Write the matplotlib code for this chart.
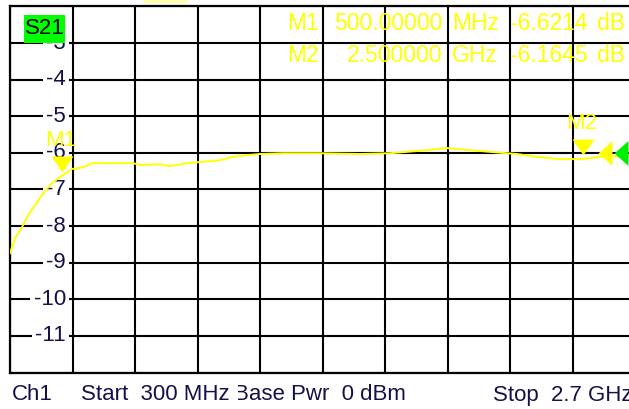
import matplotlib
matplotlib.use("Agg")
import matplotlib.pyplot as plt
import matplotlib.transforms as mtransforms
from matplotlib.patches import Rectangle

# ---------------- data ----------------
freq_mhz = [300, 319, 346, 369, 396, 427, 465, 500, 538, 580, 619, 772, 799,
            876, 914, 980, 1030, 1106, 1156, 1210, 1260, 1348, 1490, 1644,
            1759, 1863, 1978, 2028, 2105, 2208, 2247, 2324, 2412, 2462, 2500,
            2566, 2642, 2700]
s21_db = [-8.74, -8.33, -8.03, -7.70, -7.43, -7.10, -6.80, -6.6214, -6.44,
          -6.39, -6.28, -6.28, -6.33, -6.31, -6.36, -6.28, -6.25, -6.20,
          -6.11, -6.06, -6.03, -6.01, -6.01, -6.03, -6.01, -5.95, -5.87,
          -5.90, -5.95, -6.01, -6.03, -6.11, -6.17, -6.17, -6.1645, -6.11,
          -6.09, -6.09]
marker_names = ["M1", "M2"]
marker_freq = [500, 2500]          # MHz
marker_db = [-6.6214, -6.1645]
marker_freq_text = ["500.00000", "2.500000"]
marker_unit_text = ["MHz", "GHz"]
ytick_values = [-3, -4, -5, -6, -7, -8, -9, -10, -11]
ref_level = -6.0
start_mhz, stop_mhz = 300, 2700
y_min, y_max = -12, -2

# ---------------- figure ----------------
W, H = 629, 409
fig = plt.figure(figsize=(W / 100, H / 100), dpi=100)
fig.patch.set_facecolor("white")

def fx(x):
    return x / W

def fy(y):
    return 1 - y / H

left_px, right_px, top_px, bot_px = 10, 635, 6.4, 372.6
ax = fig.add_axes([fx(left_px), fy(bot_px), (right_px - left_px) / W,
                   (bot_px - top_px) / H])
ax.set_xlim(start_mhz, stop_mhz)
ax.set_ylim(y_min, y_max)
ax.set_facecolor("white")
ax.set_xticks([start_mhz + 240 * i for i in range(11)])
ax.set_yticks(list(range(y_min, y_max + 1)))
ax.grid(True, color="black", linewidth=1.5, zorder=1)
ax.tick_params(length=0, labelleft=False, labelbottom=False)
for s in ax.spines.values():
    s.set_color("black")
    s.set_linewidth(1.6)
ax.set_axisbelow(True)

FONT = "Liberation Sans"
LBL = "#12124a"
YEL = "#ffff00"
FS = 16
FS_RD = 16.5

# trace
ax.plot(freq_mhz, s21_db, color=YEL, linewidth=1.4, zorder=6,
        solid_joinstyle="round")

# y labels inside the grid with white boxes
blend = mtransforms.blended_transform_factory(ax.transAxes, ax.transData)
lab_x = (66 - left_px) / (right_px - left_px)
for v in ytick_values:
    ax.text(lab_x, v, str(v), transform=blend, ha="right", va="center",
            fontsize=FS, family=FONT, color=LBL, zorder=4,
            bbox=dict(boxstyle="square,pad=0.15", fc="white", ec="none"))

# marker triangles (tip slightly above the data point)
tri_down = [(-11, 20), (11, 20), (0, 4), (-11, 20)]
for name, f, d in zip(marker_names, marker_freq, marker_db):
    ax.plot([f], [d], marker=tri_down, markersize=20 * 2 * 0.72,
            color=YEL, markeredgewidth=0, linestyle="none", zorder=7)
    ax.annotate(name, xy=(f, d), xytext=(-1, 35 * 0.72),
                textcoords="offset points", ha="center", va="center",
                fontsize=FS, family=FONT, color=YEL, zorder=5)

# reference level arrows at the right edge
tri_left = [(-7, 0), (7, 12.5), (7, -12.5), (-7, 0)]
ax.plot([(605 - left_px) / (right_px - left_px)], [ref_level],
        transform=blend, marker=tri_left, markersize=12.5 * 2 * 0.72,
        color=YEL, markeredgewidth=0, linestyle="none", zorder=7,
        clip_on=False)
ax.plot([(621 - left_px) / (right_px - left_px)], [ref_level],
        transform=blend, marker=tri_left, markersize=12.5 * 2 * 0.72,
        color="#00ee00", markeredgewidth=0, linestyle="none", zorder=7,
        clip_on=False)

# S21 box
fig.patches.append(Rectangle((fx(24), fy(43)), (65 - 24) / W, 28 / H,
                             transform=fig.transFigure, fc="#00ff00",
                             ec="none", zorder=9))
fig.text(fx(44.5), fy(29), "S21", ha="center", va="center", fontsize=FS,
         family=FONT, color="black", zorder=10)

# marker readout
rows_y = [24, 56]
for i, (name, ft, ut, d) in enumerate(zip(marker_names, marker_freq_text,
                                          marker_unit_text, marker_db)):
    y = rows_y[i]
    fig.text(fx(287), fy(y), name, ha="left", va="center", fontsize=FS_RD,
             family=FONT, color=YEL, zorder=6)
    fig.text(fx(442), fy(y), ft, ha="right", va="center", fontsize=FS_RD,
             family=FONT, color=YEL, zorder=6)
    fig.text(fx(452), fy(y), ut, ha="left", va="center", fontsize=FS_RD,
             family=FONT, color=YEL, zorder=6)
    fig.text(fx(510), fy(y), f"{d:.4f}", ha="left", va="center",
             fontsize=FS_RD, family=FONT, color=YEL, zorder=6)
    fig.text(fx(597), fy(y), "dB", ha="left", va="center", fontsize=FS_RD,
             family=FONT, color=YEL, zorder=6)

# pale yellow sliver at the top
fig.patches.append(Rectangle((fx(143), fy(2.5)), (188 - 143) / W, 2.5 / H,
                             transform=fig.transFigure, fc="#ffffa8",
                             ec="none", zorder=6))

# bottom status line
by = 395
fig.text(fx(12), fy(by), "Ch1", ha="left", va="center", fontsize=FS,
         family=FONT, color=LBL)
fig.text(fx(234), fy(by), "Base Pwr  0 dBm", ha="left", va="center",
         fontsize=FS, family=FONT, color=LBL, zorder=1)
fig.patches.append(Rectangle((fx(228), fy(409)), 9.5 / W, 28 / H,
                             transform=fig.transFigure, fc="white",
                             ec="none", zorder=2))
fig.text(fx(81), fy(by), f"Start  {start_mhz} MHz", ha="left", va="center",
         fontsize=FS, family=FONT, color=LBL, zorder=3)
fig.text(fx(493), fy(by), f"Stop  {stop_mhz / 1000:.1f} GHz", ha="left",
         va="center", fontsize=FS, family=FONT, color=LBL)

fig.savefig("out.png", dpi=100, facecolor="white")
